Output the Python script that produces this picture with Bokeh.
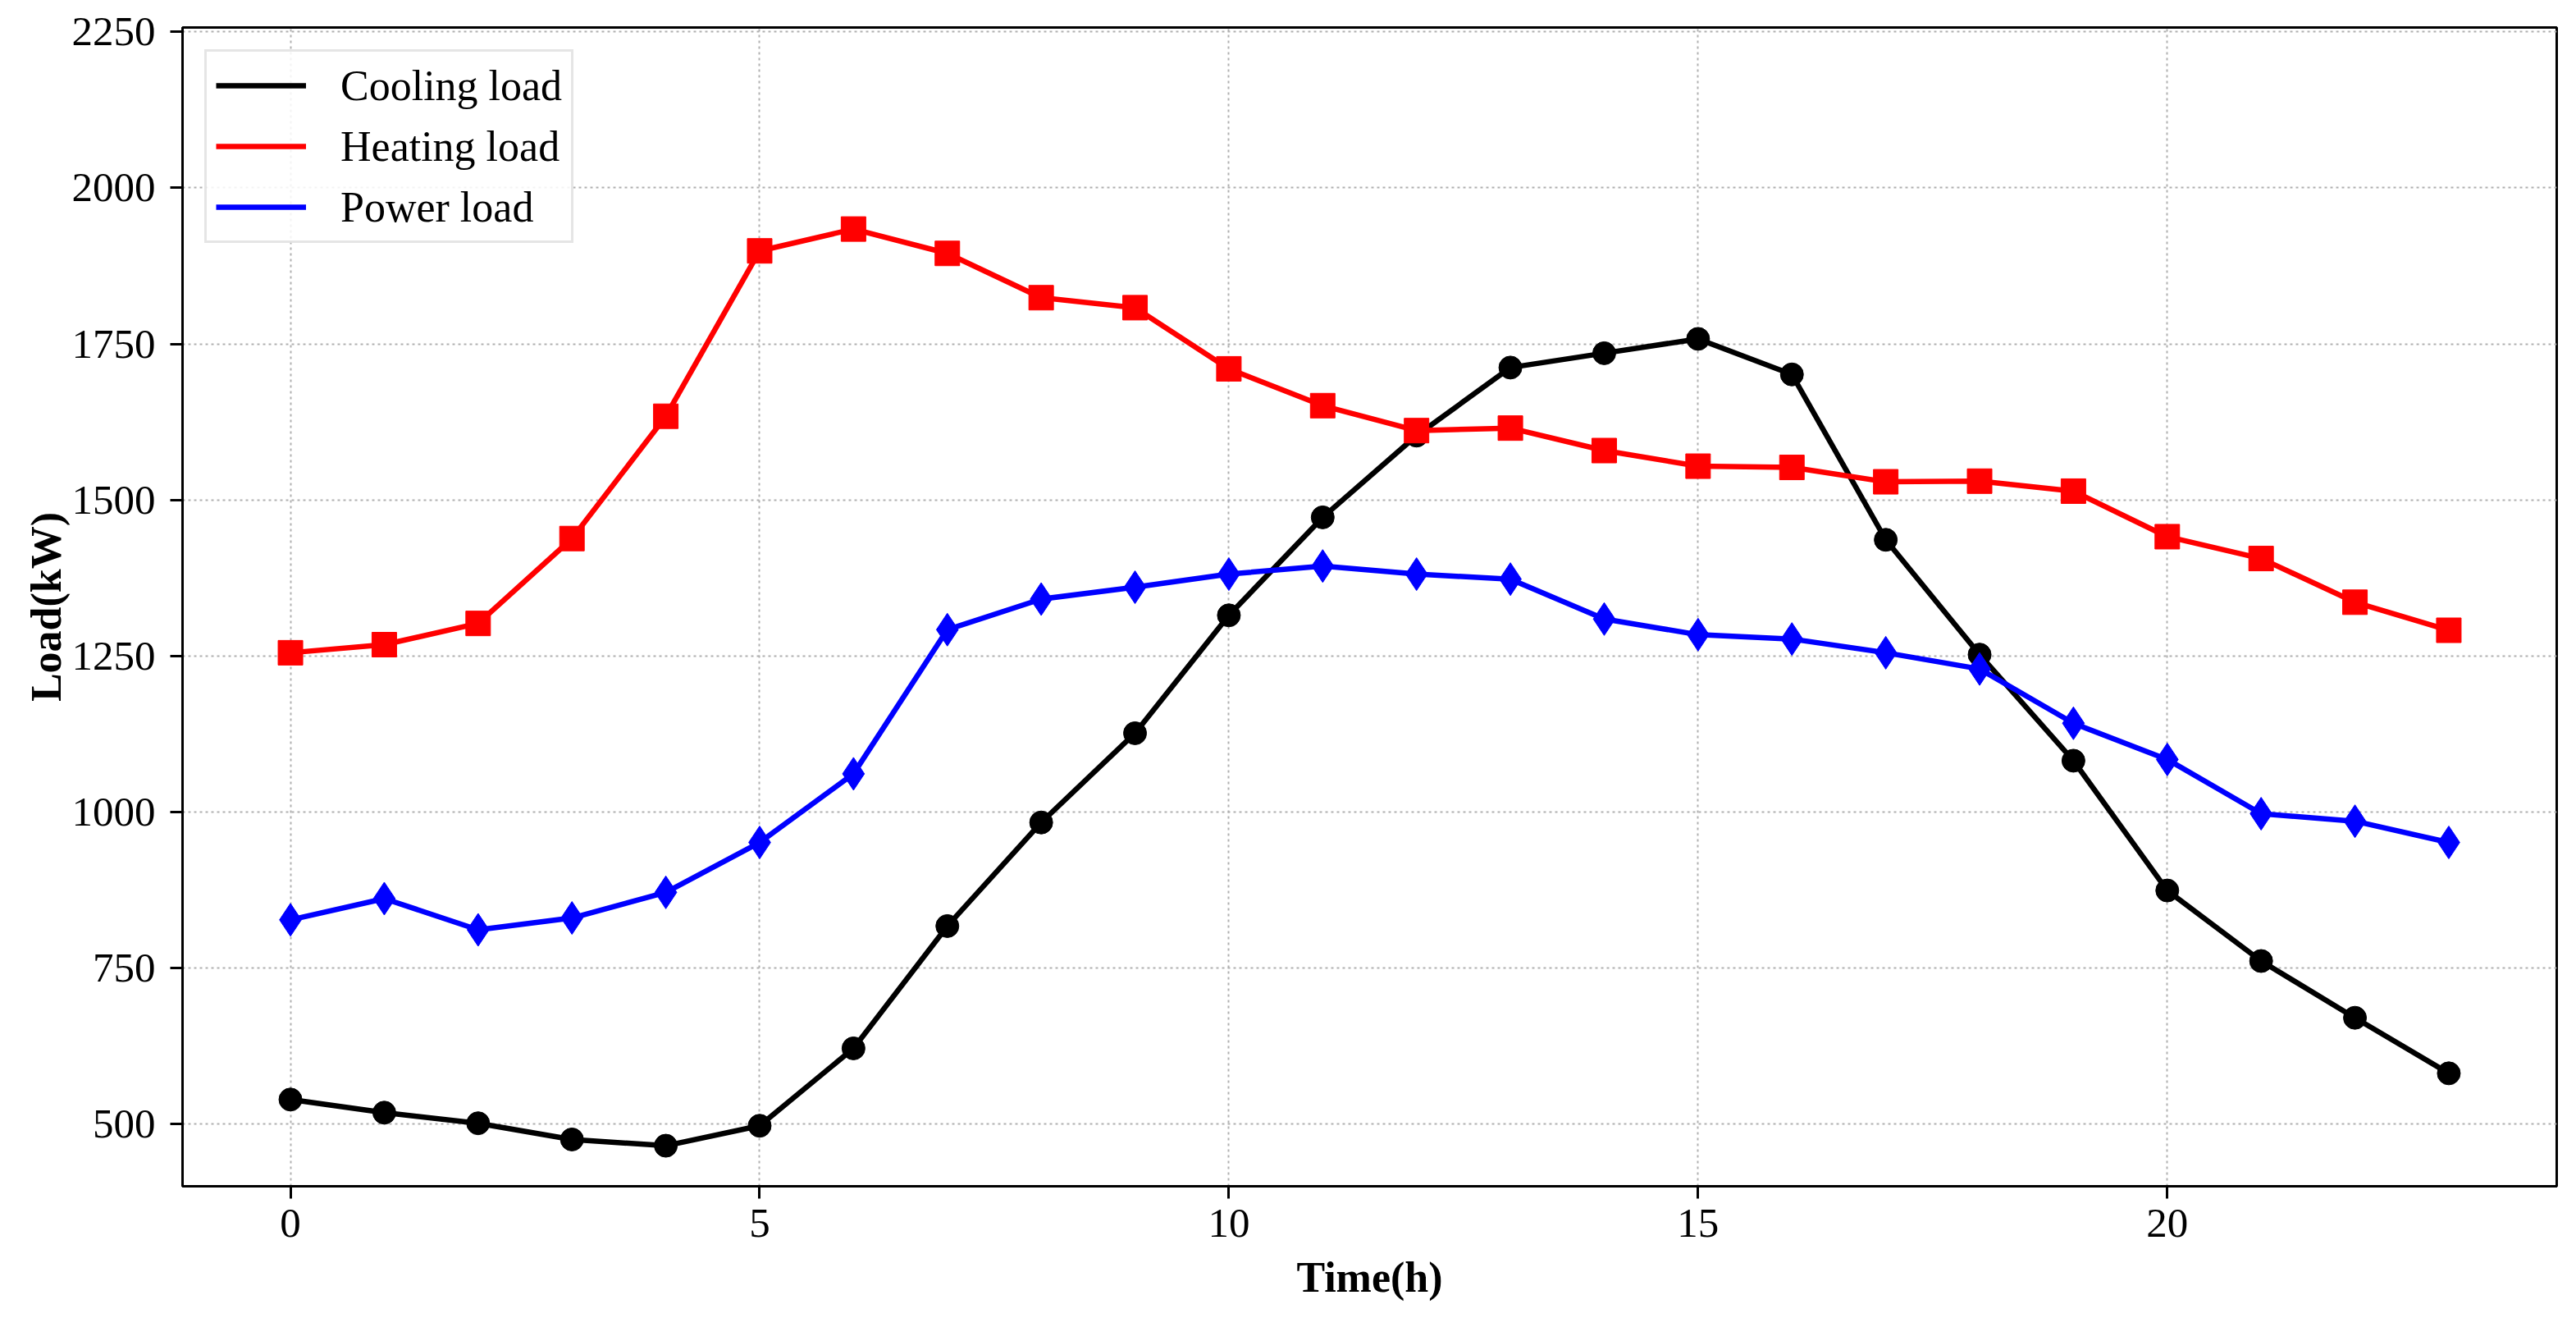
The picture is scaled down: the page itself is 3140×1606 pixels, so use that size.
from bokeh.plotting import figure
from bokeh.models import Legend, LegendItem, FixedTicker, Range1d
from bokeh.embed import file_html
from bokeh.resources import INLINE

hours = list(range(24))
cooling = [539, 518, 501, 475, 465, 497, 621, 817, 983, 1126, 1315, 1472,
           1603, 1712, 1735, 1758, 1701, 1436, 1252, 1082, 874, 761, 670, 581]
heating = [1255, 1268, 1302, 1438, 1634, 1899, 1934, 1895, 1824, 1808, 1710, 1651,
           1611, 1615, 1579, 1554, 1552, 1529, 1530, 1514, 1441, 1406, 1336, 1291]
power = [827, 861, 811, 830, 871, 951, 1061, 1292, 1341, 1360, 1381, 1394,
         1381, 1373, 1309, 1284, 1277, 1255, 1229, 1142, 1084, 997, 985, 951]
x_ticks = [0, 5, 10, 15, 20]
y_ticks = [500, 750, 1000, 1250, 1500, 1750, 2000, 2250]

FONT = "Liberation Serif"

p = figure(frame_width=2894, frame_height=1412,
           min_border_left=222, min_border_right=8, min_border_top=33, min_border_bottom=143,
           x_range=Range1d(-1.15, 24.15), y_range=Range1d(400, 2257),
           output_backend="svg", toolbar_location=None)

p.outline_line_color = "black"
p.outline_line_width = 3
p.background_fill_color = "white"
p.border_fill_color = "white"

for ax in (p.xaxis[0], p.yaxis[0]):
    ax.axis_line_width = 3
    ax.axis_line_color = "black"
    ax.major_tick_line_width = 3
    ax.major_tick_line_color = "black"
    ax.major_tick_out = 15
    ax.major_tick_in = 0
    ax.minor_tick_out = 0
    ax.minor_tick_in = 0
    ax.major_label_text_font = FONT
    ax.major_label_text_font_size = "51px"
    ax.major_label_text_color = "black"
    ax.axis_label_text_font = FONT
    ax.axis_label_text_font_size = "52px"
    ax.axis_label_text_font_style = "bold"
    ax.axis_label_text_color = "black"

p.xaxis.ticker = FixedTicker(ticks=x_ticks)
p.yaxis.ticker = FixedTicker(ticks=y_ticks)
p.xaxis.axis_label = "Time(h)"
p.yaxis.axis_label = "Load(kW)"
p.xaxis.major_label_standoff = 13
p.yaxis.major_label_standoff = 18
p.xaxis.axis_label_standoff = 18
p.yaxis.axis_label_standoff = 0

for g in (p.xgrid[0], p.ygrid[0]):
    g.grid_line_color = "#b0b0b0"
    g.grid_line_width = 2
    g.grid_line_dash = "3 4"

series = [("Cooling load", cooling, "black", "circle", 28),
          ("Heating load", heating, "red", "square", 30),
          ("Power load", power, "blue", "diamond", 40)]

items = []
for name, ys, color, marker, size in series:
    r = p.line(hours, ys, line_color=color, line_width=6.5)
    p.scatter(hours, ys, marker=marker, size=size, fill_color=color, line_color=color)
    items.append(LegendItem(label=name, renderers=[r]))

legend = Legend(items=items, location="top_left")
legend.margin = 27
legend.padding = 11
legend.spacing = 14
legend.glyph_width = 110
legend.glyph_height = 40
legend.label_height = 60
legend.label_standoff = 42
legend.label_text_font = FONT
legend.label_text_font_size = "52px"
legend.label_text_color = "black"
legend.border_line_color = "#cccccc"
legend.border_line_width = 3
legend.background_fill_color = "white"
legend.background_fill_alpha = 0.85
p.add_layout(legend)

open("out.html", "w").write(file_html(p, INLINE))
